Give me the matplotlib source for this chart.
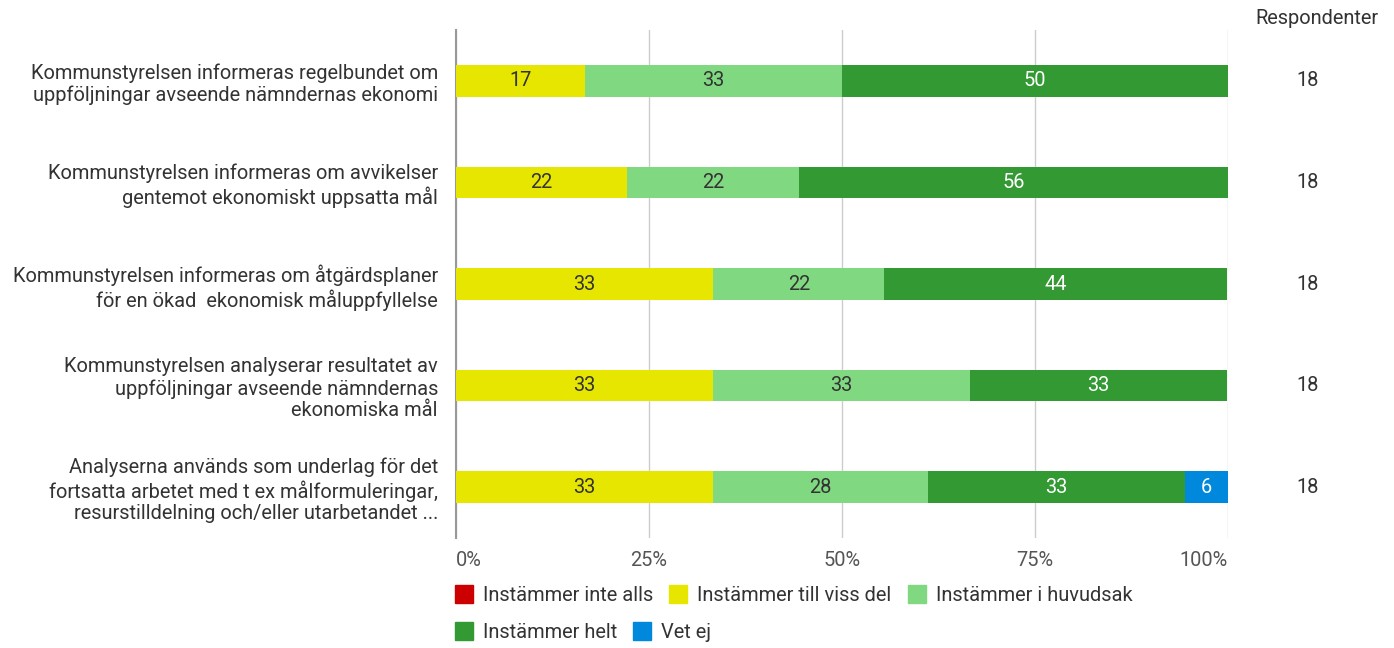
import numpy as np
import matplotlib
matplotlib.use("Agg")
import matplotlib.pyplot as plt
from matplotlib.patches import Patch
from matplotlib.transforms import blended_transform_factory

plt.rcParams['font.family'] = ['Roboto', 'DejaVu Sans']

# ---------------- data ----------------
categories = [
    "Kommunstyrelsen informeras regelbundet om\nuppföljningar avseende nämndernas ekonomi",
    "Kommunstyrelsen informeras om avvikelser\ngentemot ekonomiskt uppsatta mål",
    "Kommunstyrelsen informeras om åtgärdsplaner\nför en ökad  ekonomisk måluppfyllelse",
    "Kommunstyrelsen analyserar resultatet av\nuppföljningar avseende nämndernas\nekonomiska mål",
    "Analyserna används som underlag för det\nfortsatta arbetet med t ex målformuleringar,\nresurstilldelning och/eller utarbetandet ...",
]
series_names = ["Instämmer inte alls", "Instämmer till viss del", "Instämmer i huvudsak",
                "Instämmer helt", "Vet ej"]
inte_alls = [0.0, 0.0, 0.0, 0.0, 0.0]
till_viss_del = [16.7, 22.2, 33.3, 33.3, 33.3]
i_huvudsak = [33.3, 22.2, 22.2, 33.3, 27.8]
helt = [50.0, 55.6, 44.4, 33.3, 33.3]
vet_ej = [0.0, 0.0, 0.0, 0.0, 5.6]
respondenter = [18, 18, 18, 18, 18]
xtick_labels = ["0%", "25%", "50%", "75%", "100%"]

colors = ["#cc0000", "#e6e600", "#80d880", "#339933", "#0088dd"]
text_colors = ["white", "#333333", "#333333", "white", "white"]

FS = 14.4

# ---------------- plot ----------------
fig = plt.figure(figsize=(13.94, 6.48), dpi=100)
ax = fig.add_axes([456 / 1394, 1 - 538 / 648, (1228 - 456) / 1394, (538 - 30) / 648])

y = np.arange(len(categories))
left = np.zeros(len(categories))
for vals, col, tcol in zip([inte_alls, till_viss_del, i_huvudsak, helt, vet_ej], colors, text_colors):
    vals = np.array(vals)
    ax.barh(y, vals, left=left, height=0.31, color=col, zorder=3)
    for yi, l, v in zip(y, left, vals):
        if v > 0:
            ax.text(l + v / 2, yi, f"{v:.0f}", ha="center", va="center",
                    fontsize=FS, color=tcol, zorder=4)
    left += vals

ax.set_xlim(0, 100)
ax.set_ylim(len(categories) - 0.5, -0.5)
ax.set_xticks([0, 25, 50, 75, 100])
ax.set_xticklabels(xtick_labels, fontsize=FS, color="#555555")
tl = ax.get_xticklabels()
tl[0].set_ha("left")
tl[-1].set_ha("right")
ax.set_yticks(y)
ax.set_yticklabels(categories, fontsize=FS, color="#333333", linespacing=1.18)
ax.tick_params(axis="both", length=0)
ax.tick_params(axis="y", pad=13)
ax.tick_params(axis="x", pad=9)
ax.grid(axis="x", color="#cccccc", linewidth=1, zorder=0)
for s in ["top", "right", "bottom"]:
    ax.spines[s].set_visible(False)
ax.spines["left"].set_color("#999999")
ax.spines["left"].set_linewidth(1.5)

# respondenter
tr = blended_transform_factory(ax.transAxes, ax.transData)
for yi, r in zip(y, respondenter):
    ax.text((1308 - 456) / 772, yi, str(r), transform=tr, ha="center", va="center",
            fontsize=FS, color="#333333")
fig.text(1317 / 1394, 1 - 18 / 648, "Respondenter", ha="center", va="center", fontsize=FS, color="#333333")

# legend, two rows
handles = [Patch(facecolor=c, edgecolor=c) for c in colors]
kw = dict(frameon=False, fontsize=FS, handlelength=0.9, handleheight=1.0,
          handletextpad=0.5, columnspacing=0.8, borderaxespad=0, borderpad=0,
          labelcolor="#333333")
fig.legend(handles[:3], series_names[:3], ncol=3, loc="center left",
           bbox_to_anchor=(455 / 1394, 1 - 595 / 648), **kw)
fig.legend(handles[3:], series_names[3:], ncol=2, loc="center left",
           bbox_to_anchor=(455 / 1394, 1 - 632 / 648), **kw)

fig.savefig("out.png", dpi=100)
